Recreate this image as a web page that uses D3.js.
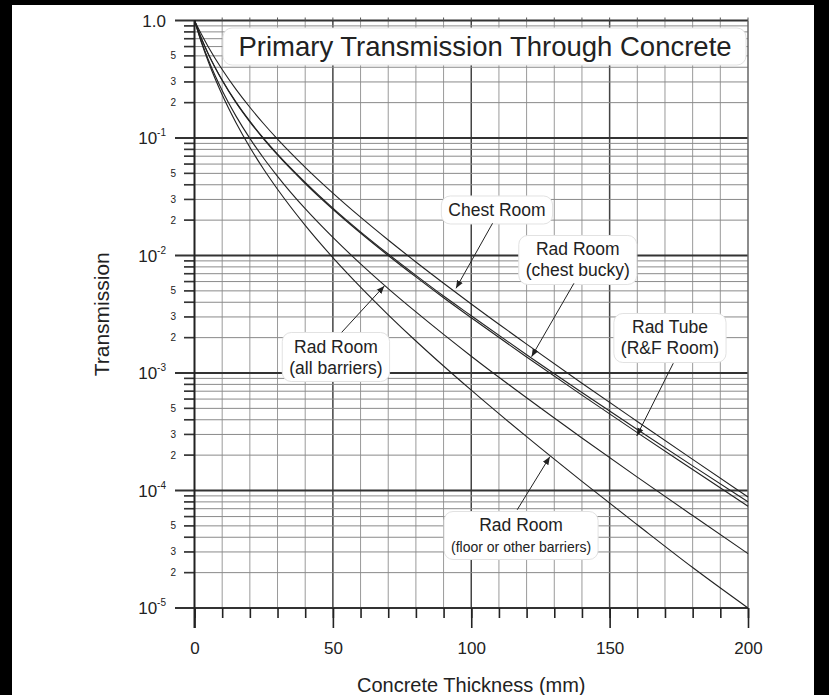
<!DOCTYPE html>
<html><head><meta charset="utf-8">
<script src="https://cdn.jsdelivr.net/npm/d3@7"></script>
<style>html,body{margin:0;padding:0;background:#000;}svg{display:block;}</style>
</head><body>
<svg id="chart" width="829" height="695"></svg>
<script>
// ---- data ----
const thickness = [0,2.5,5,10,15,20,25,30,40,50,60,70,80,90,100,120,140,160,180,200];
const chestRoom      = [1,0.763,0.596,0.383,0.2595,0.1827,0.1322,0.0978,0.0563,0.0340,0.0212,0.01354,0.00881,0.00581,0.00387,0.001762,0.000819,0.000387,0.000184,0.000088];
const radChestBucky  = [1,0.702,0.517,0.309,0.200,0.1373,0.0978,0.0717,0.0410,0.02475,0.01553,0.01001,0.00657,0.00437,0.00295,0.001369,0.000648,0.000311,0.000151,0.0000735];
const radTubeRF      = [1,0.705,0.520,0.311,0.202,0.139,0.0993,0.0729,0.0419,0.0253,0.0159,0.01029,0.00678,0.00452,0.00307,0.00143,0.000683,0.000331,0.000162,0.000080];
const radAllBarriers = [1,0.662,0.463,0.2534,0.1535,0.0992,0.0672,0.0472,0.0250,0.01424,0.00849,0.00523,0.00331,0.00213,0.00139,0.000615,0.000280,0.000130,0.0000612,0.0000290];
const radFloor       = [1,0.650,0.4454,0.2333,0.1349,0.0834,0.0542,0.0366,0.01804,0.00959,0.00538,0.00313,0.001873,0.001147,0.000714,0.000287,0.0001196,0.0000511,0.0000221,0.0000100];
const seriesList = [chestRoom, radChestBucky, radTubeRF, radAllBarriers, radFloor];

const xTicksMajor = [0,50,100,150,200];
const decades = [-5,-4,-3,-2,-1,0];
const minorMultipliers = [2,3,4,5,6,7,8,9];
const labeledMinors = [2,3,5];

// annotations: label centre and arrow (start -> tip) in data units
const annotations = [
  {lines:["Chest Room"], lx:109.3, ly:0.0244, sx:107.7, sy:0.0188, tx:94.5, ty:0.00526},
  {lines:["Rad Room","(chest bucky)"], lx:138.5, ly:0.00916, sx:137.1, sy:0.0058, tx:121.8, ty:0.001377},
  {lines:["Rad Tube","(R&F Room)"], lx:171.8, ly:0.001986, sx:173, sy:0.00121, tx:159.8, ty:0.000291},
  {lines:["Rad Room","(all barriers)"], lx:51.1, ly:0.001368, sx:53.2, sy:0.00222, tx:68.6, ty:0.00551},
  {lines:["Rad Room","(floor or other barriers)"], lx:118, ly:0.000041, sx:116.6, sy:0.0000685, tx:128.4, ty:0.000194, small:true}
];
const chartTitle = "Primary Transmission Through Concrete";
const xTitle = "Concrete Thickness (mm)";
const yTitle = "Transmission";

// ---- drawing ----
const FONT = "'Liberation Sans', Arial, Helvetica, sans-serif";
const svg = d3.select("#chart");
const W = 829, H = 695;
svg.append("rect").attr("width", W).attr("height", H).attr("fill", "#000");
svg.append("rect").attr("x", 12).attr("y", 5).attr("width", 802).attr("height", H-5).attr("fill", "#fff");

const x = d3.scaleLinear().domain([0,200]).range([194.5,748]);
const y = d3.scaleLog().domain([1e-5,1]).range([608,20.5]);

const g = svg.append("g");

// vertical grid
g.selectAll("line.vg").data(d3.range(10,200,10)).join("line")
  .attr("x1", d => x(d)).attr("x2", d => x(d))
  .attr("y1", y(1)).attr("y2", y(1e-5))
  .attr("stroke", d => d % 50 === 0 ? "#444" : "#9a9a9a")
  .attr("stroke-width", d => d % 50 === 0 ? 1.5 : 1);

// horizontal minor grid
const minorVals = [];
decades.slice(0,-1).forEach(e => minorMultipliers.forEach(m => minorVals.push({v: m*Math.pow(10,e), m})));
g.selectAll("line.hg").data(minorVals).join("line")
  .attr("x1", 184).attr("x2", x(200))
  .attr("y1", d => y(d.v)).attr("y2", d => y(d.v))
  .attr("stroke", "#8a8a8a").attr("stroke-width", 1);
// minor ticks (dark part)
g.selectAll("line.mt").data(minorVals).join("line")
  .attr("x1", 184).attr("x2", x(0))
  .attr("y1", d => y(d.v)).attr("y2", d => y(d.v))
  .attr("stroke", "#333").attr("stroke-width", 1.6);
// decade lines
g.selectAll("line.dg").data(decades).join("line")
  .attr("x1", 175).attr("x2", x(200))
  .attr("y1", d => y(Math.pow(10,d))).attr("y2", d => y(Math.pow(10,d)))
  .attr("stroke", "#333").attr("stroke-width", d => d === -5 ? 2 : 1.8);

// right border
g.append("line").attr("x1", x(200)).attr("x2", x(200)).attr("y1", y(1)).attr("y2", y(1e-5))
  .attr("stroke", "#666").attr("stroke-width", 1.5);

// top ticks
g.selectAll("line.tt").data(d3.range(10,201,10)).join("line")
  .attr("x1", d => x(d)).attr("x2", d => x(d)).attr("y1", y(1)).attr("y2", y(1)-3)
  .attr("stroke", "#555").attr("stroke-width", 1);

// curves
const line = d3.line().x(d => x(d[0])).y(d => y(d[1])).curve(d3.curveMonotoneX);
seriesList.forEach(s => {
  g.append("path").datum(thickness.map((t,i) => [t, s[i]]))
    .attr("d", line).attr("fill", "none").attr("stroke", "#222").attr("stroke-width", 1.1);
});

// x axis ticks & labels
const xAxisMinor = d3.axisBottom(x).tickValues(d3.range(0,201,10)).tickSize(10).tickFormat("");
const xa = g.append("g").attr("transform", `translate(0,${y(1e-5)})`).call(xAxisMinor);
xa.select(".domain").remove();
xa.selectAll("line").attr("stroke", "#222").attr("stroke-width", 1.6);
const xAxisMajor = d3.axisBottom(x).tickValues(xTicksMajor).tickSize(20).tickPadding(14).tickFormat(d3.format("d"));
const xb = g.append("g").attr("transform", `translate(0,${y(1e-5)})`).call(xAxisMajor);
xb.select(".domain").remove();
xb.selectAll("line").attr("stroke", "#222").attr("stroke-width", 1.6);
xb.selectAll("text").attr("font-family", FONT).attr("font-size", 17).attr("fill", "#222");

// y axis line (x=0) extended below
g.append("line").attr("x1", x(0)).attr("x2", x(0)).attr("y1", y(1)).attr("y2", y(1e-5)+20)
  .attr("stroke", "#222").attr("stroke-width", 2);

// y labels
const yl = g.append("g").attr("font-family", FONT).attr("fill", "#222");
decades.forEach(e => {
  const t = yl.append("text").attr("x", 166).attr("y", y(Math.pow(10,e)) + 6)
    .attr("text-anchor", "end").attr("font-size", 17);
  if (e === 0) { t.text("1.0"); }
  else {
    t.append("tspan").text("10");
    t.append("tspan").attr("font-size", 10).attr("dy", -8).text(String(e));
  }
});
minorVals.filter(d => labeledMinors.includes(d.m)).forEach(d => {
  yl.append("text").attr("x", 176).attr("y", y(d.v) + 3.5).attr("text-anchor", "end")
    .attr("font-size", 10).text(d.m);
});

// axis titles
svg.append("text").attr("x", (x(0)+x(200))/2).attr("y", 692).attr("text-anchor", "middle")
  .attr("font-family", FONT).attr("font-size", 20).attr("fill", "#222").text(xTitle);
svg.append("text").attr("transform", `translate(109,${(y(1)+y(1e-5))/2}) rotate(-90)`)
  .attr("text-anchor", "middle").attr("font-family", FONT).attr("font-size", 21).attr("fill", "#222").text(yTitle);

// chart title box
const titleG = svg.append("g");
const titleBox = titleG.append("rect").attr("rx", 9).attr("ry", 9).attr("fill", "#fff").attr("stroke", "#e2e2e2");
const titleText = titleG.append("text").attr("x", 485).attr("y", 56).attr("text-anchor", "middle")
  .attr("font-family", FONT).attr("font-size", 27.5).attr("fill", "#222").text(chartTitle);
titleBox.attr("x", 223).attr("y", 28).attr("width", 746-223).attr("height", 37);

// arrow marker
svg.append("defs").append("marker").attr("id", "arr").attr("viewBox", "0 0 10 10")
  .attr("refX", 10).attr("refY", 5).attr("markerWidth", 8).attr("markerHeight", 8)
  .attr("markerUnits", "userSpaceOnUse").attr("orient", "auto")
  .append("path").attr("d", "M0,1 L10,5 L0,9 Z").attr("fill", "#222");

// annotations
annotations.forEach(a => {
  const ag = svg.append("g");
  const cx = x(a.lx), cy = y(a.ly);
  const n = a.lines.length;
  const lh = 21;
  const rect = ag.append("rect").attr("rx", 9).attr("ry", 9).attr("fill", "#fff").attr("stroke", "#e2e2e2");
  const txt = ag.append("text").attr("text-anchor", "middle").attr("font-family", FONT).attr("fill", "#222");
  a.lines.forEach((l, i) => {
    txt.append("tspan").attr("x", cx).attr("y", cy + (i - (n-1)/2) * lh + 6)
      .attr("font-size", (a.small && i === 1) ? 14 : 17.5).text(l);
  });
  const bb = txt.node().getBBox();
  rect.attr("x", bb.x - 7).attr("y", bb.y - 4).attr("width", bb.width + 14).attr("height", bb.height + 8);
  ag.append("line").attr("x1", x(a.sx)).attr("y1", y(a.sy)).attr("x2", x(a.tx)).attr("y2", y(a.ty))
    .attr("stroke", "#222").attr("stroke-width", 1).attr("marker-end", "url(#arr)");
});
</script>
</body></html>
